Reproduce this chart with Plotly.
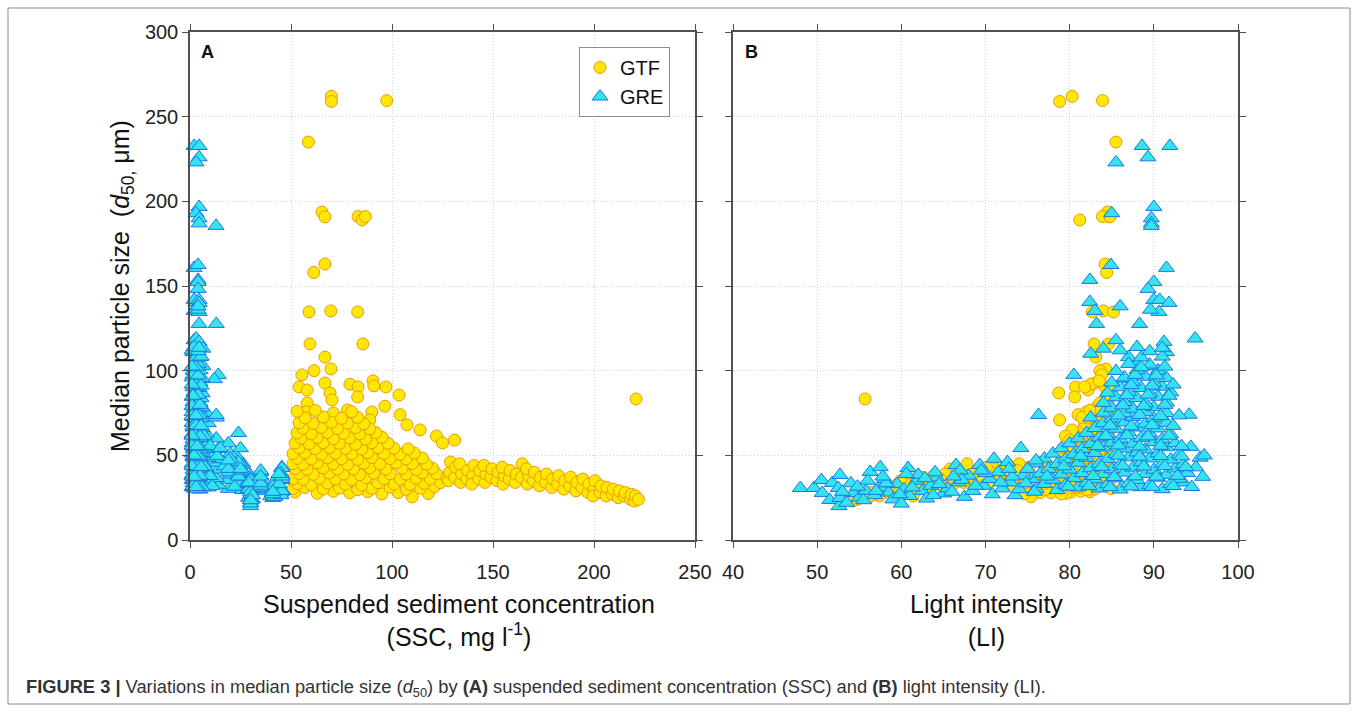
import plotly.graph_objects as go

# ---------------- GTF (circles) : each sample has SSC, LI and d50 ----------------
gtf_sparse_ssc = [70, 70, 97.4, 58.6, 65.3, 66.8, 83.2, 85.2, 86.8, 66.8,
                  61.3, 58.9, 69.7, 83.0, 59.4, 85.6, 66.8, 69.8, 61.4, 220.8,
                  55.4, 54, 58, 66.8, 69.3, 70.3, 79.2, 83.2, 90.6, 91,
                  97, 96.5, 103.5, 104, 107.4, 113.9, 122, 125, 131, 58,
                  57.5, 78, 83, 90, 89, 71, 66]
gtf_sparse_li = [80.3, 78.8, 83.9, 85.5, 84.5, 84.7, 83.9, 81.2, 84.8, 84.2,
                 84.4, 82.7, 84.0, 85.2, 82.9, 84.6, 83.1, 84.3, 83.6, 55.7,
                 83.8, 80.7, 82.2, 83.0, 78.7, 84.6, 82.5, 84.2, 83.5, 85.0,
                 81.8, 83.3, 84.4, 81.0, 82.8, 80.3, 79.5, 81.5, 80.0, 83.6,
                 82.0, 84.3, 80.6, 82.6, 78.8, 84.8, 83.2]
gtf_sparse_d50 = [262, 259, 259.5, 235, 193.7, 190.8, 191, 189, 191, 163,
                  158, 134.7, 135.3, 134.7, 115.8, 115.8, 108, 101, 100, 83.3,
                  97.5, 90.4, 88.6, 92.7, 86.8, 82.7, 92, 90.4, 94, 91,
                  90.4, 79, 85.6, 74, 68, 65, 61.4, 57.3, 59, 80.9,
                  75.6, 76.8, 84.5, 75.6, 70.9, 75, 69.7]

gtf_body_ssc = [52, 63, 71, 79, 88, 95, 103, 110, 118,
                51, 57, 66, 74, 83, 90, 99, 107, 114, 121,
                53, 60, 68, 77, 85, 93, 101, 109, 116, 124,
                51, 56, 64, 72, 80, 87, 96, 104, 112, 119, 127,
                54, 61, 69, 76, 84, 91, 99, 107, 115, 122, 129,
                52, 58, 66, 73, 81, 89, 97, 105, 112, 120,
                51, 56, 63, 71, 78, 86, 94, 102, 110, 117,
                53, 60, 68, 75, 83, 90, 99, 107, 115,
                51, 57, 65, 72, 80, 88, 96, 104, 111,
                54, 62, 69, 77, 85, 93, 101, 108,
                52, 59, 66, 74, 82, 90, 98,
                55, 63, 71, 79, 87, 95,
                53, 60, 68, 76, 84, 92,
                56, 65, 73, 82, 89,
                54, 61, 70, 78, 86,
                57, 66, 75, 83,
                53, 62, 80]
gtf_body_d50 = [28.3, 27.6, 28.8, 27.9, 28.5, 27.2, 28.0, 25.5, 27.4,
                30.4, 31.0, 30.1, 30.8, 29.7, 30.5, 31.2, 29.9, 30.6, 31.5,
                33.2, 32.7, 33.6, 33.0, 32.5, 33.8, 33.1, 32.8, 33.4, 33.9,
                36.1, 35.8, 36.4, 36.0, 35.6, 36.7, 36.2, 35.9, 36.5, 36.0, 36.8,
                39.3, 38.8, 39.6, 39.0, 38.6, 39.4, 39.1, 38.9, 39.7, 39.2, 38.5,
                42.2, 41.7, 42.5, 41.9, 42.0, 42.6, 41.8, 42.3, 41.6, 42.4,
                45.1, 44.7, 45.5, 45.0, 44.6, 45.3, 44.9, 45.6, 45.2, 44.8,
                48.2, 47.8, 48.5, 48.0, 47.6, 48.7, 48.1, 47.9, 48.4,
                51.0, 51.5, 50.7, 51.3, 50.9, 51.6, 51.1, 50.6, 51.4,
                54.3, 53.9, 54.6, 54.0, 53.7, 54.5, 54.2, 53.8,
                57.2, 56.8, 57.5, 57.0, 56.6, 57.4, 57.1,
                60.1, 60.5, 59.8, 60.3, 59.6, 60.7,
                63.2, 62.7, 63.5, 63.0, 62.6, 63.4,
                66.0, 66.5, 65.8, 66.3, 65.6,
                69.2, 68.8, 69.5, 69.0, 68.6,
                72.1, 72.6, 71.8, 72.4,
                76.0, 76.5, 75.7]
gtf_body_li = [80.2, 79.6, 81.3, 77.8, 82.4, 79.0, 76.5, 75.4, 74.6,
               84.9, 81.2, 83.0, 80.4, 82.1, 78.9, 80.8, 77.2, 76.0, 75.1,
               83.6, 82.8, 84.1, 81.6, 83.4, 80.5, 79.3, 78.2, 77.0, 75.8,
               84.5, 82.6, 81.9, 83.7, 82.3, 81.0, 80.1, 79.4, 78.3, 76.7, 75.0,
               83.1, 84.3, 82.7, 81.8, 83.9, 82.0, 80.6, 79.8, 78.0, 77.4, 74.8,
               84.0, 82.9, 84.6, 83.2, 82.5, 81.4, 80.9, 79.9, 78.6, 77.6,
               83.3, 84.7, 82.2, 83.8, 81.7, 82.9, 81.2, 80.4, 79.5, 78.8,
               82.7, 83.9, 81.5, 84.2, 82.8, 81.9, 80.8, 80.0, 79.2,
               84.1, 82.4, 83.5, 81.9, 84.5, 82.6, 81.3, 80.7, 79.9,
               83.2, 81.8, 84.0, 82.9, 83.6, 82.1, 81.1, 80.5,
               82.5, 84.4, 83.1, 81.6, 84.0, 82.8, 81.5,
               83.7, 82.0, 84.3, 82.9, 81.4, 83.5,
               82.3, 84.6, 81.9, 83.4, 82.7, 84.1,
               83.0, 81.7, 84.2, 82.4, 83.8,
               84.4, 82.6, 83.3, 81.8, 84.8,
               82.1, 84.0, 83.2, 81.5,
               83.6, 82.4, 84.5]

gtf_tail_ssc = [128, 128.5, 129, 131, 131.5, 134, 134.5, 133.5, 137, 137.5,
                140, 140.5, 139.5, 143, 143.5, 146, 146.5, 145.5, 149, 149.5,
                152, 152.5, 155, 155.5, 154.5, 158, 158.5, 161, 161.5, 164,
                164.5, 167, 167.5, 166.5, 170, 170.5, 173, 173.5, 176, 176.5,
                179, 179.5, 182, 182.5, 185, 185.5, 188, 188.5, 191, 191.5,
                194, 194.5, 197, 197.5, 200, 200.5, 199.5, 203, 203.5, 206,
                206.5, 209, 209.5, 212, 212.5, 215, 215.5, 218, 218.5, 220,
                220.5, 222]
gtf_tail_d50 = [35, 40, 46, 37, 43, 34, 39, 45, 36, 41,
                38, 44, 33, 36, 41, 34, 39, 44, 37, 42,
                35, 40, 33, 38, 43, 36, 41, 34, 39, 37,
                45, 33, 38, 42, 35, 40, 32, 37, 34, 39,
                31, 36, 33, 38, 30, 35, 32, 37, 29, 34,
                31, 36, 28, 33, 30, 35, 26, 28, 32, 26,
                31, 27, 30, 25, 29, 26, 28, 24, 27, 23,
                26, 24]
gtf_tail_li = [75.8, 74.2, 76.6, 73.5, 75.2, 74.8, 72.9, 74.0, 72.2, 73.8,
               71.6, 72.8, 73.2, 71.0, 72.3, 70.4, 71.7, 70.8, 69.9, 71.2,
               69.3, 70.6, 68.7, 69.5, 70.1, 68.1, 69.0, 67.4, 68.4, 66.9,
               67.8, 66.2, 67.3, 65.8, 65.5, 66.6, 64.8, 65.9, 64.1, 65.2,
               63.5, 64.6, 62.8, 63.9, 62.1, 63.3, 61.5, 62.6, 60.8, 61.9,
               60.1, 61.3, 59.4, 60.5, 58.8, 59.9, 61.4, 58.1, 59.2, 57.4,
               58.5, 56.8, 57.9, 56.1, 57.2, 55.5, 56.4, 54.8, 55.9, 54.2,
               56.3, 53.6]

# ---------------- GRE (triangles) ----------------
gre_sparse_ssc = [2, 4.5, 4.5, 3, 4.5, 3, 4.5, 4.5, 12.9, 2,
                  4, 4, 4, 4, 3, 2, 4.5, 4.5, 2, 4.5,
                  4, 4.5, 13, 4, 2, 3, 4.5, 6.4, 3, 4.5,
                  6.4, 14, 12, 2, 5, 1.5]
gre_sparse_li = [88.6, 91.9, 89.3, 85.5, 90.0, 85.0, 89.7, 89.7, 89.7, 91.5,
                 84.9, 82.4, 90.0, 89.3, 82.4, 90.0, 90.7, 91.8, 83.0, 90.6,
                 89.6, 88.3, 83.2, 86.0, 85.5, 94.9, 91.2, 84.0, 82.5, 88.0,
                 89.5, 80.5, 86.5, 90.5, 87.0, 91.5]
gre_sparse_d50 = [232.7, 232.7, 226, 223, 196.7, 193, 190, 187, 185.5, 160.7,
                  162.4, 153.6, 152.4, 148.3, 140.6, 141.8, 141.8, 140, 135.3, 134.7,
                  136, 127.6, 127.6, 138, 118, 119, 117, 113, 110, 104.5,
                  102.7, 97.5, 95, 100, 108, 111]

gre_core_li = [76, 78.5, 81, 83.5, 86, 88.5, 91,
               77, 79.5, 82, 84.5, 87, 89.5, 92, 93.5,
               75.5, 78, 80.5, 83, 85.5, 88, 90.5, 93,
               76.5, 79, 81.5, 84, 86.5, 89, 91.5, 94,
               77.5, 80, 82.5, 85, 87.5, 90, 92.5, 95,
               76, 78.5, 81, 83.5, 86, 88.5, 91, 93.5,
               77, 79.5, 82, 84.5, 87, 89.5, 92, 95.5,
               78, 80.5, 83, 85.5, 88, 90.5, 93,
               79, 81.5, 84, 86.5, 89, 91.5, 94.4,
               80, 82.5, 85, 87.5, 90, 92.5,
               81, 83.5, 86, 88.5, 91,
               82, 84.5, 87, 89.5, 92,
               83, 85.5, 88, 90.5,
               84, 86.5, 89, 91.5,
               82.5, 85, 87.5, 90, 94.2,
               84, 86.5, 89, 91.5,
               85, 87.5, 90,
               84, 86.5, 89, 91.5,
               85.5, 88, 90.5,
               84.5, 87, 89.5, 92,
               86, 88.5, 91,
               85, 87.5, 90,
               86.5, 89, 91.5,
               85.5, 88, 90.5,
               87, 89.5,
               88.5, 91,
               86, 89.5]
gre_core_d50 = [30.2, 29.5, 31.0, 30.4, 29.8, 31.2, 30.0,
                33.1, 32.6, 33.8, 32.9, 33.5, 32.4, 33.0, 34.0,
                36.0, 35.6, 36.6, 35.9, 36.3, 35.4, 36.8, 36.1,
                39.2, 38.7, 39.5, 38.9, 39.8, 39.0, 38.5, 39.6,
                42.0, 41.6, 42.4, 41.8, 42.7, 41.5, 42.2, 42.9,
                45.3, 44.8, 45.6, 45.0, 44.6, 45.9, 45.1, 44.7,
                48.1, 47.7, 48.5, 47.9, 48.8, 48.2, 47.5, 48.6,
                51.0, 50.6, 51.4, 50.8, 51.7, 51.2, 50.5,
                54.2, 53.8, 54.6, 54.0, 53.5, 54.8, 55.0,
                57.1, 56.7, 57.5, 56.9, 57.8, 57.2,
                60.0, 60.6, 59.7, 60.3, 59.5,
                63.2, 62.8, 63.6, 63.0, 62.5,
                66.1, 65.7, 66.4, 65.9,
                69.0, 69.4, 68.7, 69.2,
                72.3, 71.8, 72.6, 72.0, 74.0,
                75.2, 74.8, 75.5, 75.0,
                78.1, 77.6, 78.4,
                81.0, 81.5, 80.7, 81.2,
                84.3, 83.8, 84.6,
                87.0, 87.4, 86.7, 87.2,
                90.2, 89.8, 90.5,
                93.0, 93.4, 92.7,
                96.0, 96.4, 95.7,
                99.8, 100.3, 100.0,
                104.0, 103.6,
                107.8, 108.3,
                112.0, 111.5]
gre_core_ssc = [19, 26, 9, 2, 5, 1, 3.5,
                24, 14, 8, 4, 1.5, 5.5, 2.5, 3,
                30, 19, 13, 7, 3, 1, 4.5, 2,
                25, 20, 9, 5.5, 2, 4, 1, 3.5,
                18, 14, 8, 3, 5, 1.5, 4, 2.5,
                26, 19, 13, 7, 2, 5.5, 1, 3,
                24, 15, 9, 4, 1.5, 3, 5, 2,
                20, 12, 6, 2.5, 4.5, 1, 3.5,
                25, 14, 8, 1.5, 5, 3, 2,
                19, 9, 4, 2, 6, 1,
                13, 7, 3, 5, 1.5,
                24, 8, 2, 4.5, 1,
                6, 3, 1.5, 5,
                9, 2, 4, 1,
                13, 5, 1.5, 3, 2.5,
                8, 3.5, 1, 5,
                2, 4.5, 6,
                5, 1.5, 3, 4,
                2.5, 5.5, 1,
                4, 2, 6, 3,
                1.5, 4.5, 3,
                5, 2, 4,
                1, 3.5, 6,
                2.5, 5, 1.5,
                4, 2,
                3, 5.5,
                1, 4]

gre_fill_li = [79.8, 82.3, 84.8, 87.3, 89.8, 92.3, 94.5,
               77.3, 82.8, 85.3, 87.8, 90.3, 92.8, 95.8,
               79.3, 83.8, 86.3, 88.8, 91.3, 93.8,
               81.3, 85.8, 88.3, 90.8, 93.3, 96.0,
               83.3, 85.8, 88.3, 90.8, 93.3,
               84.3, 86.8, 89.3, 91.8,
               84.8, 87.3, 89.8, 92.3,
               85.8, 88.3, 90.8, 93.0,
               86.3, 88.8, 91.3,
               86.8, 89.3, 91.8,
               87.3, 89.8, 92.3,
               87.8, 90.3,
               88.5, 91.3,
               88.0, 91.0]
gre_fill_d50 = [31.5, 31.8, 31.2, 31.6, 31.4, 31.9, 31.3,
                37.5, 37.8, 37.2, 37.6, 37.4, 37.9, 37.3,
                43.5, 43.2, 43.8, 43.4, 43.6, 43.1,
                49.5, 49.8, 49.2, 49.6, 49.4, 49.9,
                55.5, 55.8, 55.2, 55.6, 55.4,
                61.5, 61.8, 61.2, 61.6,
                67.5, 67.2, 67.8, 67.4,
                73.5, 73.8, 73.2, 73.6,
                79.5, 79.2, 79.8,
                85.5, 85.8, 85.2,
                91.5, 91.2, 91.8,
                97.5, 97.2,
                102.0, 102.4,
                114.0, 113.5]
gre_fill_ssc = [22, 11, 6, 2, 4, 1.5, 3,
                27, 10, 4.5, 1, 3, 5, 2,
                17, 7.5, 2.5, 4, 1, 5.5,
                13.5, 3, 5, 1.5, 4, 2,
                10, 2, 4.5, 1, 3.5,
                7, 2.5, 5, 1,
                4, 1.5, 3, 5.5,
                2, 4.5, 1, 3,
                3.5, 1, 5,
                2, 4, 1.5,
                3, 5.5, 1,
                1.5, 4,
                3, 1,
                2, 4.5]

gre_low_li = [48.0, 49.6, 50.5, 50.6, 51.8, 52.7, 52.5, 51.5, 52.6, 52.7,
              56.3, 57.5, 54.3, 55.0, 55.8, 56.8, 57.5, 58.5, 59.0, 59.5,
              60.3, 60.8, 61.0, 61.8, 62.5, 63.0, 63.5, 64.2, 65.0, 65.5,
              66.5, 66.8, 67.5, 68.0, 68.5, 69.3, 69.8, 70.5, 70.8, 71.5,
              72.0, 72.6, 73.0, 73.5, 74.2, 74.5, 75.0, 74.0, 76.3, 64.0,
              67.0, 71.0, 58.0, 62.0, 54.0, 53.5, 60.0,
              53.0, 54.8, 56.0, 57.0, 58.2, 59.8, 61.3, 62.8, 64.5, 66.0,
              67.2, 68.8, 70.0, 71.8, 73.2, 74.8, 75.8, 63.8, 66.2, 69.5,
              72.8, 57.8, 60.6, 55.5, 76.0]
gre_low_d50 = [30.7, 30.7, 35.4, 27.8, 33.7, 38.4, 30.7, 23.6, 20.0, 24.8,
               40.2, 43.0, 27.8, 25.0, 29.0, 26.5, 31.0, 28.0, 24.0, 33.0,
               30.0, 42.5, 26.0, 35.0, 29.0, 24.5, 32.0, 37.0, 27.5, 30.5,
               44.3, 34.0, 25.5, 38.0, 29.0, 44.3, 32.0, 36.0, 27.0, 40.0,
               30.5, 46.0, 34.0, 26.5, 54.3, 38.0, 42.0, 30.0, 73.8, 40.0,
               41.0, 48.0, 36.0, 38.5, 33.5, 22.0, 21.5,
               28.5, 31.5, 35.0, 29.0, 33.5, 27.0, 31.0, 36.5, 33.0, 28.5,
               35.5, 32.0, 39.5, 34.0, 37.5, 33.5, 28.5, 26.5, 37.5, 41.0,
               42.0, 37.5, 39.0, 23.5, 47.0]
gre_low_ssc = [41, 35, 45.5, 41, 35, 45.5, 29, 30, 30, 41,
               35, 45.5, 44, 29, 35, 41, 30, 45, 31, 41,
               35, 45.5, 40, 29, 44, 30, 34, 45, 41, 31,
               26, 35, 42, 30, 46, 25, 35, 44, 30, 19,
               41, 24, 30, 45, 15, 35, 19, 29, 13, 26,
               35, 20, 45.5, 24, 41, 30, 30,
               30, 41, 35, 45.5, 29, 41, 35, 30, 44, 41,
               30, 35, 45, 29, 24, 35, 41, 31, 45.5, 26,
               25, 35, 44, 30, 19]

gtf_ssc = gtf_sparse_ssc + gtf_body_ssc + gtf_tail_ssc
gtf_li = gtf_sparse_li + gtf_body_li + gtf_tail_li
gtf_d50 = gtf_sparse_d50 + gtf_body_d50 + gtf_tail_d50
gre_ssc = gre_sparse_ssc + gre_core_ssc + gre_fill_ssc + gre_low_ssc
gre_li = gre_sparse_li + gre_core_li + gre_fill_li + gre_low_li
gre_d50 = gre_sparse_d50 + gre_core_d50 + gre_fill_d50 + gre_low_d50

W, H = 1358, 712
FONT = "Liberation Sans, Arial, Helvetica, sans-serif"

gtf_marker = dict(symbol="circle", size=12, color="#FFE800",
                  line=dict(color="#E89A10", width=1))
gre_marker = dict(symbol="triangle-up", size=14, color="#33E3EE",
                  line=dict(color="#1C78E0", width=1))

fig = go.Figure()
fig.add_trace(go.Scatter(x=gtf_ssc, y=gtf_d50, mode="markers", name="GTF",
                         marker=gtf_marker, xaxis="x", yaxis="y", cliponaxis=False))
fig.add_trace(go.Scatter(x=gre_ssc, y=gre_d50, mode="markers", name="GRE",
                         marker=gre_marker, xaxis="x", yaxis="y", cliponaxis=False))
fig.add_trace(go.Scatter(x=gtf_li, y=gtf_d50, mode="markers", name="GTF",
                         marker=gtf_marker, xaxis="x2", yaxis="y2",
                         showlegend=False, cliponaxis=False))
fig.add_trace(go.Scatter(x=gre_li, y=gre_d50, mode="markers", name="GRE",
                         marker=gre_marker, xaxis="x2", yaxis="y2",
                         showlegend=False, cliponaxis=False))

ax = dict(showline=True, linecolor="#505050", linewidth=1.5, mirror="ticks",
          ticks="outside", ticklen=6, tickwidth=1.3, tickcolor="#505050",
          showgrid=True, gridcolor="#d2d2d2", griddash="1px,2px", gridwidth=1,
          zeroline=False, automargin=False,
          tickfont=dict(size=20, color="#222", family=FONT))

ydom = [(H - 540) / H, (H - 32) / H]
fig.update_layout(
    width=W, height=H, autosize=False,
    margin=dict(l=0, r=0, t=0, b=0, pad=0, autoexpand=False),
    paper_bgcolor="white", plot_bgcolor="white",
    font=dict(family=FONT, color="#222"),
    xaxis=dict(ax, domain=[190 / W, 695 / W], range=[0, 250], dtick=50,
               anchor="y", ticklabelstandoff=7),
    yaxis=dict(ax, domain=ydom, range=[0, 300], dtick=50, anchor="x"),
    xaxis2=dict(ax, domain=[733 / W, 1238 / W], range=[40, 100], dtick=10,
                anchor="y2", ticklabelstandoff=7),
    yaxis2=dict(ax, domain=ydom, range=[0, 300], dtick=50, anchor="x2",
                showticklabels=False),
    legend=dict(x=579 / W, y=(H - 47) / H, xanchor="left", yanchor="top",
                bordercolor="#8c8c8c", borderwidth=1, bgcolor="white",
                font=dict(size=20, color="#111", family=FONT),
                tracegroupgap=0),
    showlegend=True,
)

def px(x):
    return x / W

def py(y):
    return (H - y) / H

annos = [
    dict(x=px(199), y=py(52), text="<b>A</b>", xanchor="left", yanchor="middle",
         font=dict(size=18, color="#111")),
    dict(x=px(743), y=py(52), text="<b>B</b>", xanchor="left", yanchor="middle",
         font=dict(size=18, color="#111")),
    dict(x=px(459), y=py(620), text="Suspended sediment concentration<br>(SSC, mg l<sup>-1</sup>)",
         xanchor="center", yanchor="middle", font=dict(size=25, color="#111")),
    dict(x=px(986), y=py(620), text="Light intensity<br>(LI)",
         xanchor="center", yanchor="middle", font=dict(size=25, color="#111")),
    dict(x=px(122), y=py(286), text="Median particle size  (<i>d</i><sub>50,</sub> μm)",
         textangle=-90, xanchor="center", yanchor="middle",
         font=dict(size=25, color="#111")),
    dict(x=px(24), y=py(688),
         text="<b>FIGURE 3 |</b> Variations in median particle size (<i>d</i><sub>50</sub>) by "
              "<b>(A)</b> suspended sediment concentration (SSC) and <b>(B)</b> light intensity (LI).",
         xanchor="left", yanchor="middle",
         font=dict(size=18.3, color="#333", family=FONT)),
]
for a in annos:
    a.update(xref="paper", yref="paper", showarrow=False)
fig.update_layout(annotations=annos)

fig.add_shape(type="rect", xref="paper", yref="paper",
              x0=px(8), x1=px(1350), y0=py(704), y1=py(8),
              line=dict(color="#8a8a8a", width=1))

fig.write_html("out.html", config={"displayModeBar": False},
               post_script="document.body.style.margin='0';document.body.style.overflow='hidden';")
